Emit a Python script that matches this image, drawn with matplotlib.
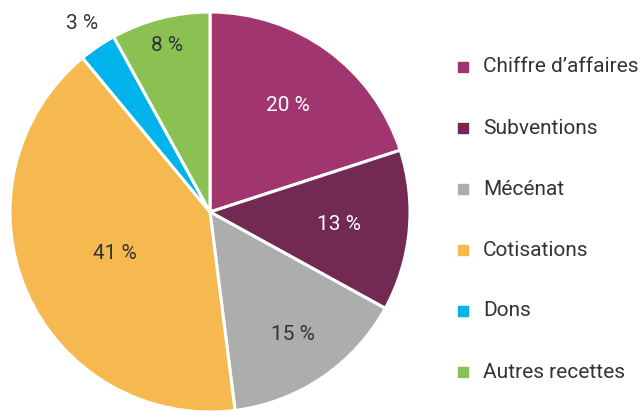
import matplotlib.pyplot as plt
import numpy as np

# ======================
# DATA
# ======================
labels = ['Chiffre d\u2019affaires', 'Subventions', 'Mécénat', 'Cotisations', 'Dons', 'Autres recettes']
values = [20, 13, 15, 41, 3, 8]
colors = ['#A1356F', '#722A52', '#ADADAD', '#F5B94F', '#00B3EA', '#8BC153']
text_colors = ['white', 'white', '#333333', '#333333', '#333333', '#333333']
label_radius = [0.66, 0.65, 0.74, 0.52, 1.14, 0.86]

FONT = ['Liberation Sans Narrow', 'Roboto', 'DejaVu Sans']

# ======================
# FIGURE
# ======================
fig = plt.figure(figsize=(6.42, 4.11), dpi=100)
ax = fig.add_axes([10 / 642, -1 / 411, 400 / 642, 400 / 411])

wedges, _ = ax.pie(values, colors=colors, startangle=90, counterclock=False,
                   radius=1, wedgeprops=dict(edgecolor='white', linewidth=2.2))
ax.set_xlim(-1, 1)
ax.set_ylim(-1, 1)
ax.set_aspect('equal')
ax.axis('off')

# percentage labels
for w, v, c, r in zip(wedges, values, text_colors, label_radius):
    ang = np.deg2rad((w.theta1 + w.theta2) / 2)
    ax.text(r * np.cos(ang), r * np.sin(ang), f'{v} %', ha='center', va='center',
            fontsize=15, color=c, family=FONT, clip_on=False)

# ======================
# LEGEND
# ======================
for i, (lab, col) in enumerate(zip(labels, colors)):
    y = 1 - (67 + i * 61) / 411
    fig.patches.append(plt.Rectangle((458 / 642, y - 5 / 411), 10 / 642, 10 / 411,
                                     color=col, transform=fig.transFigure))
    fig.text(483 / 642, y, lab, ha='left', va='center', fontsize=15,
             color='#333333', family=FONT)

plt.savefig('out.png', dpi=100)
